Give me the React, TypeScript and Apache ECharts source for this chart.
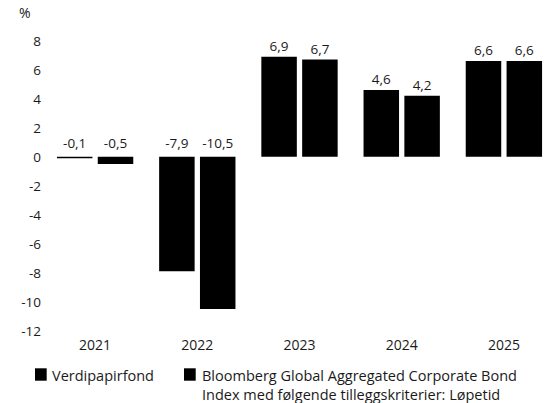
import React, { useEffect, useRef } from "react";
import * as echarts from "echarts";

const categories = ["2021", "2022", "2023", "2024", "2025"];
const fundValues = [-0.1, -7.9, 6.9, 4.6, 6.6];
const indexValues = [-0.5, -10.5, 6.7, 4.2, 6.6];
const seriesNames = [
  "Verdipapirfond",
  "Bloomberg Global Aggregated Corporate Bond\nIndex med følgende tilleggskriterier: Løpetid",
];
const yMin = -12;
const yMax = 8;
const yStep = 2;
const unitLabel = "%";

const FONT = "Open Sans";
const TEXT = "#1a1a1a";

const fmt = (v: number) => String(v).replace(".", ",");

export default function App() {
  const ref = useRef<HTMLDivElement>(null);
  useEffect(() => {
    if (!ref.current) return;
    const chart = echarts.init(ref.current, undefined, { renderer: "svg" });
    const mkData = (vals: number[]) =>
      vals.map((v) => ({ value: v, label: { distance: v < 0 ? 7 : 4 } }));
    const mkSeries = (name: string, vals: number[]) => ({
      type: "bar",
      name,
      data: mkData(vals),
      barWidth: 35.5,
      barGap: "15%",
      itemStyle: { color: "#000" },
      label: {
        show: true,
        position: "top",
        color: TEXT,
        fontFamily: FONT,
        fontSize: 13.5,
        formatter: (p: any) => fmt(p.value),
      },
    });
    chart.setOption({
      animation: false,
      backgroundColor: "#fff",
      textStyle: { fontFamily: FONT },
      grid: {
        left: 44,
        top: 40.7,
        width: 511,
        height: 290,
        containLabel: false,
        outerBoundsMode: "none",
      },
      xAxis: {
        type: "category",
        data: categories,
        axisLine: { show: false, onZero: false },
        axisTick: { show: false },
        axisLabel: { color: TEXT, fontFamily: FONT, fontSize: 14, margin: 7 },
      },
      yAxis: {
        type: "value",
        min: yMin,
        max: yMax,
        interval: yStep,
        splitLine: { show: false },
        axisLine: { show: false },
        axisTick: { show: false },
        axisLabel: {
          color: TEXT,
          fontFamily: FONT,
          fontSize: 13.5,
          margin: 3,
          formatter: (v: number) => fmt(v),
        },
      },
      series: [mkSeries(seriesNames[0], fundValues), mkSeries(seriesNames[1], indexValues)],
      graphic: [
        {
          type: "text",
          left: 19,
          top: 5,
          style: { text: unitLabel, fill: TEXT, font: `14px ${FONT}` },
        },
        { type: "rect", shape: { x: 35, y: 368.3, width: 11.7, height: 12.4 }, style: { fill: "#000" } },
        {
          type: "text",
          x: 52,
          y: 375,
          style: {
            text: seriesNames[0],
            fill: TEXT,
            font: `14.5px ${FONT}`,
            verticalAlign: "middle",
          },
        },
        { type: "rect", shape: { x: 184, y: 368.3, width: 11.7, height: 12.4 }, style: { fill: "#000" } },
        {
          type: "text",
          x: 202,
          y: 365.5,
          style: {
            text: seriesNames[1],
            fill: TEXT,
            font: `14.5px ${FONT}`,
            lineHeight: 19,
            verticalAlign: "top",
          },
        },
      ],
    });
    return () => chart.dispose();
  }, []);
  return (
    <div
      ref={ref}
      style={{ position: "fixed", left: 0, top: 0, width: 548, height: 403, background: "#fff" }}
    />
  );
}
